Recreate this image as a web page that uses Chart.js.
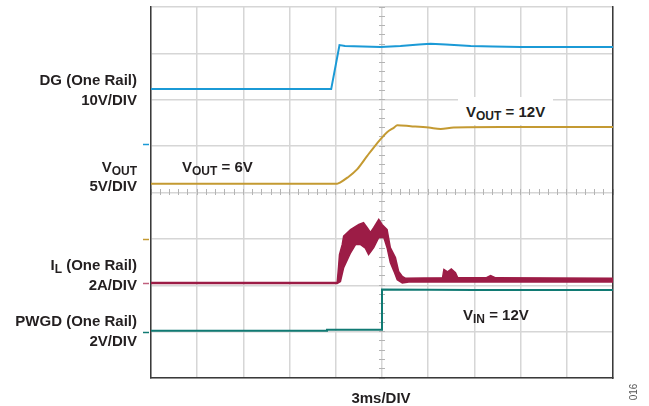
<!DOCTYPE html>
<html>
<head>
<meta charset="utf-8">
<script src="https://cdn.jsdelivr.net/npm/chart.js@4.4.1/dist/chart.umd.min.js"></script>
<style>
    body { margin: 0; background: #fff; }
    #wrap {
        position: relative; width: 649px; height: 406px;
        font-family: "Liberation Sans", Arial, sans-serif;
        font-weight: bold; font-size: 15px; color: #231f20;
    }
    #wrap canvas { position: absolute; left: 0; top: 0; }
    .lbl { position: absolute; white-space: nowrap; line-height: 15px; }
    .side { right: 512px; text-align: right; }
    .lbl sub { font-size: 12px; vertical-align: baseline; position: relative; top: 3px; }
    .boxed { background: #fff; padding: 7px 8px 4px 8px; }
    .fig {
        position: absolute; left: 620px; top: 386px; width: 28px; line-height: 12px;
        text-align: center; font-size: 10px; font-weight: normal; color: #555;
        transform: rotate(-90deg);
    }
</style>
</head>
<body>
<div id="wrap">
    <canvas id="scope" width="649" height="406"></canvas>

    <div class="lbl side" style="top:72px">DG (One Rail)</div>
    <div class="lbl side" style="top:92px">10V/DIV</div>
    <div class="lbl side" style="top:159px">V<sub>OUT</sub></div>
    <div class="lbl side" style="top:178px">5V/DIV</div>
    <div class="lbl side" style="top:257px">I<sub>L</sub> (One Rail)</div>
    <div class="lbl side" style="top:277px">2A/DIV</div>
    <div class="lbl side" style="top:313px">PWGD (One Rail)</div>
    <div class="lbl side" style="top:333px">2V/DIV</div>

    <div class="lbl" style="left:182px; top:159px">V<sub>OUT</sub> = 6V</div>
    <div class="lbl boxed" style="left:458px; top:97px">V<sub>OUT</sub> = 12V</div>
    <div class="lbl" style="left:463px; top:307px">V<sub>IN</sub> = 12V</div>
    <div class="lbl" style="left:321px; width:120px; text-align:center; top:390px">3ms/DIV</div>
    <div class="fig">016</div>
</div>

<script>
    // time axis in divisions (3ms/DIV), level axis in divisions
    var xDivisions = [0, 10];
    var yDivisions = [0, 8];

    var dgTrace = [
        [0.00, 6.23], [3.90, 6.23], [4.08, 7.18], [4.20, 7.16], [4.97, 7.14],
        [5.40, 7.16], [5.80, 7.19], [6.05, 7.21], [6.38, 7.19], [6.92, 7.16],
        [7.40, 7.15], [8.00, 7.14], [10.00, 7.14]
    ];

    var voutTrace = [
        [0.00, 4.19], [4.03, 4.19], [4.10, 4.22], [4.25, 4.32], [4.46, 4.50],
        [4.68, 4.79], [4.82, 4.97], [4.97, 5.15], [5.11, 5.30], [5.26, 5.40],
        [5.33, 5.45], [5.62, 5.43], [6.01, 5.40], [6.27, 5.37], [6.55, 5.40],
        [7.57, 5.41], [10.00, 5.41]
    ];

    var ilUpper = [
        [0.00, 2.06], [4.03, 2.06], [4.06, 2.40], [4.08, 2.66], [4.14, 2.88],
        [4.17, 3.06], [4.32, 3.20], [4.50, 3.31], [4.60, 3.35], [4.68, 3.24],
        [4.75, 3.14], [4.82, 3.24], [4.93, 3.42], [5.00, 3.31], [5.11, 3.20],
        [5.18, 2.81], [5.29, 2.60], [5.36, 2.30], [5.44, 2.19], [5.51, 2.15],
        [6.31, 2.16], [6.34, 2.34], [6.42, 2.29], [6.50, 2.35], [6.59, 2.27],
        [6.64, 2.16], [7.25, 2.16], [7.35, 2.21], [7.46, 2.16], [10.00, 2.15]
    ];

    var ilLower = [
        [0.00, 2.04], [4.03, 2.04], [4.10, 2.08], [4.17, 2.38], [4.32, 2.70],
        [4.43, 2.88], [4.53, 2.88], [4.64, 2.80], [4.71, 2.66], [4.82, 2.81],
        [4.93, 3.03], [5.04, 3.03], [5.11, 2.81], [5.18, 2.49], [5.26, 2.30],
        [5.33, 2.12], [5.44, 2.05], [5.58, 2.07], [10.00, 2.07]
    ];

    var pwgdTrace = [
        [0.00, 1.02], [3.81, 1.02], [3.81, 1.04], [5.00, 1.04], [5.00, 1.91],
        [7.00, 1.90], [10.00, 1.90]
    ];

    // channel ground markers on the left edge: DG, VOUT, IL, PWGD
    var markerLevels = [5.04, 3.00, 2.05, 0.99];

    var DG_COLOR = '#1b9ad6';
    var VOUT_COLOR = '#c49a32';
    var IL_COLOR = '#9c1c46';
    var PWGD_COLOR = '#107a73';
    var markerColors = [DG_COLOR, VOUT_COLOR, '#c0607e', PWGD_COLOR];

    var GRID = '#d6d6d6';
    var FRAME = '#3a3a3a';
    var MINOR = '#b4b4b4';

    function toPoints(pairs) {
        return pairs.map(function (p) {
            return { x: p[0], y: p[1] };
        });
    }

    var channelMarkers = {
        id: 'channelMarkers',
        afterDraw: function (chart) {
            var ctx = chart.ctx;
            var left = chart.chartArea.left;
            ctx.save();
            ctx.lineWidth = 1.5;
            markerLevels.forEach(function (level, i) {
                var y = Math.round(chart.scales.y.getPixelForValue(level)) + 0.5;
                ctx.strokeStyle = markerColors[i];
                ctx.beginPath();
                ctx.moveTo(left - 8, y);
                ctx.lineTo(left - 2, y);
                ctx.stroke();
            });
            ctx.restore();
        }
    };

    new Chart(document.getElementById('scope'), {
        type: 'line',
        data: {
            datasets: [
                {
                    label: 'DG',
                    data: toPoints(dgTrace),
                    borderColor: DG_COLOR,
                    borderWidth: 2
                },
                {
                    label: 'VOUT',
                    data: toPoints(voutTrace),
                    borderColor: VOUT_COLOR,
                    borderWidth: 2,
                    cubicInterpolationMode: 'monotone'
                },
                {
                    label: 'IL upper',
                    data: toPoints(ilUpper),
                    borderColor: IL_COLOR,
                    backgroundColor: IL_COLOR,
                    borderWidth: 1.5,
                    fill: '+1'
                },
                {
                    label: 'IL lower',
                    data: toPoints(ilLower),
                    borderColor: IL_COLOR,
                    borderWidth: 1.5
                },
                {
                    label: 'PWGD',
                    data: toPoints(pwgdTrace),
                    borderColor: PWGD_COLOR,
                    borderWidth: 2
                }
            ]
        },
        options: {
            responsive: false,
            animation: false,
            events: [],
            layout: { padding: { left: 151, top: 7, right: 36, bottom: 28 } },
            elements: {
                point: { radius: 0 },
                line: { tension: 0 }
            },
            plugins: {
                legend: { display: false },
                tooltip: { enabled: false }
            },
            scales: {
                x: {
                    type: 'linear',
                    min: xDivisions[0],
                    max: xDivisions[1],
                    ticks: { display: false, stepSize: 1 },
                    grid: { color: GRID, lineWidth: 1.5, drawTicks: false },
                    border: { color: FRAME, width: 1.5 }
                },
                y: {
                    type: 'linear',
                    min: yDivisions[0],
                    max: yDivisions[1],
                    ticks: { display: false, stepSize: 1 },
                    grid: { color: GRID, lineWidth: 1.5, drawTicks: false },
                    border: { color: FRAME, width: 1.5 }
                },
                yRight: {
                    type: 'linear',
                    position: 'right',
                    min: yDivisions[0],
                    max: yDivisions[1],
                    ticks: { display: false },
                    grid: { display: false, drawTicks: false },
                    border: { color: FRAME, width: 1.5 }
                },
                // minor ticks on the centre crosshair
                xMinor: {
                    type: 'linear',
                    position: { y: 4.065 },
                    min: xDivisions[0],
                    max: xDivisions[1],
                    ticks: { display: false, stepSize: 0.2 },
                    grid: { drawOnChartArea: false, tickLength: 6, color: MINOR, lineWidth: 1 },
                    border: { display: false }
                },
                yMinor: {
                    type: 'linear',
                    position: { x: 5.065 },
                    min: yDivisions[0],
                    max: yDivisions[1],
                    ticks: { display: false, stepSize: 0.2 },
                    grid: { drawOnChartArea: false, tickLength: 6, color: MINOR, lineWidth: 1 },
                    border: { display: false }
                }
            }
        },
        plugins: [channelMarkers]
    });
</script>
</body>
</html>
